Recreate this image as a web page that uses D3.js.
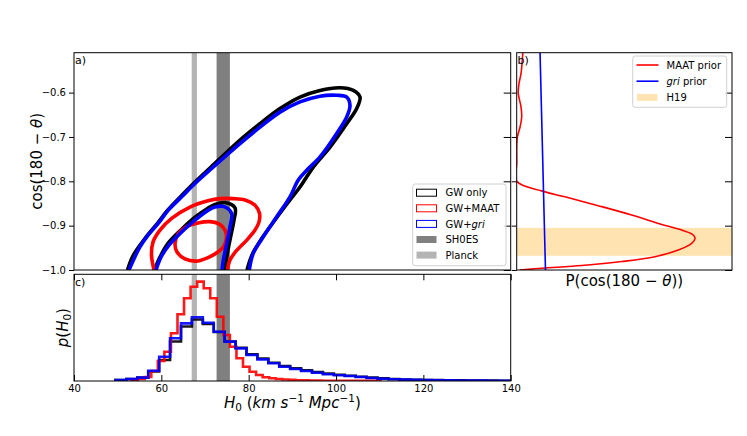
<!DOCTYPE html>
<html><head><meta charset="utf-8">
<script src="https://cdn.jsdelivr.net/npm/d3@7"></script>
<style>
body{margin:0;background:#fff}
svg{display:block}
text{font-family:"DejaVu Sans",sans-serif;fill:#000}
</style>
</head><body>
<svg id="c" width="747" height="436"></svg>
<script>
// ---------------- DATA ----------------
// Contours in (H0, cos(180-theta))
const gwOuter = [[52.25,-1.0],[53.51,-0.968],[56.49,-0.926],[59.01,-0.896],[61.3,-0.867],[64.27,-0.836],[67.48,-0.804],[71.37,-0.768],[78.01,-0.707],[82.59,-0.67],[87.17,-0.636],[91.75,-0.61],[96.33,-0.595],[100.91,-0.589],[103.96,-0.595],[105.49,-0.61],[104.74,-0.636],[102.45,-0.67],[98.62,-0.723],[94.8,-0.768],[91.75,-0.813],[89.46,-0.842],[86.03,-0.887],[83.05,-0.928],[80.76,-0.966],[79.62,-1.0]];
const gwInner = [[58.43,-1.0],[59.69,-0.971],[61.52,-0.94],[64.66,-0.908],[67.71,-0.881],[70.75,-0.86],[72.29,-0.852],[74.58,-0.848],[76.87,-0.86],[76.64,-0.8875],[75.95,-0.921],[75.26,-0.955],[74.81,-0.982],[74.69,-1.0]];
const maatOuter = [[58.32,-1.0],[57.75,-0.966],[58.09,-0.937],[59.69,-0.91],[62.44,-0.883],[66.56,-0.858],[70.68,-0.844],[73.43,-0.839],[76.41,-0.839],[79.16,-0.842],[81.45,-0.854],[82.48,-0.872],[82.36,-0.892],[81.45,-0.91],[79.62,-0.932],[77.33,-0.955],[75.72,-0.9775],[75.15,-1.0]];
const maatInner = [[63.13,-0.9415],[63.81,-0.919],[65.65,-0.903],[68.4,-0.894],[71.14,-0.891],[73.2,-0.896],[74.58,-0.91],[74.92,-0.926],[74.35,-0.946],[72.97,-0.9595],[70.68,-0.972],[67.94,-0.98],[65.42,-0.975],[63.59,-0.9595]];
const griOuter = [[52.59,-1.0],[53.97,-0.97],[55.11,-0.948],[57.01,-0.921],[59.3,-0.895],[61.59,-0.865],[64.66,-0.835],[67.71,-0.805],[71.53,-0.771],[78.01,-0.715],[82.59,-0.678],[87.17,-0.644],[91.75,-0.621],[96.33,-0.608],[100.16,-0.606],[102.45,-0.61],[103.2,-0.629],[102.45,-0.655],[100.16,-0.692],[96.33,-0.745],[93.29,-0.775],[91.36,-0.797],[89.46,-0.835],[86.42,-0.88],[83.35,-0.925],[81.06,-0.962],[80.14,-1.0]];
const griInner = [[58.78,-1.0],[59.92,-0.971],[61.75,-0.944],[64.66,-0.914],[67.71,-0.8875],[70.75,-0.865],[72.29,-0.858],[74.35,-0.857],[76.07,-0.872],[75.72,-0.9026],[74.97,-0.94],[74.19,-0.9775],[73.89,-1.0]];

// H0 reference bands [low, high]
const sh0es = [72.65, 75.7];
const planck = [66.95, 68.15];

// Histograms p(H0)
const redEdges = [53.2,54.7,56.2,57.7,59.2,60.7,62.2,63.7,65.2,66.7,68.2,69.7,71.2,72.7,74.2,75.7,77.2,78.7,80.2,81.7,83.2,84.7,86.2,87.7,89.2,90.7,92.2,93.7,95.2,96.7,98.2,99.7,101.2,102.7,104.2,105.7,107.2,108.7,110.2];
const redDens = [0.0008,0.0016,0.0031,0.0078,0.0155,0.0227,0.0370,0.0517,0.0641,0.0731,0.0770,0.0719,0.0641,0.0498,0.0357,0.0266,0.0176,0.0111,0.0072,0.0047,0.0029,0.0021,0.0016,0.0012,0.0009,0.0006,0.0005,0.0004,0.0003,0.0002,0.0002,0.0002,0.0001,0.0001,0.0001,0.0001,0.0001,0.0001];
const gwEdges = [49.5,52,54.5,57,59.5,62,64.5,67,69.5,72,74.5,77,79.5,82,84.5,87,89.5,92,94.5,97,99.5,102,104.5,107,109.5,112,114.5,117,119.5,122,124.5,127,129.5,132,134.5,137,139.5,142];
const blueDens = [0.0008,0.0016,0.0026,0.0080,0.0188,0.0331,0.0447,0.0494,0.0452,0.0382,0.0305,0.0253,0.0202,0.0168,0.0137,0.0111,0.0093,0.0078,0.0064,0.0052,0.0044,0.0039,0.0031,0.0023,0.0018,0.0013,0.0011,0.0009,0.0007,0.0006,0.0005,0.0004,0.0003,0.0003,0.0002,0.0002,0.0002];
const blackDens = [0.0008,0.0016,0.0026,0.0074,0.0163,0.0306,0.0422,0.0477,0.0442,0.0380,0.0306,0.0258,0.0207,0.0174,0.0142,0.0116,0.0098,0.0083,0.0070,0.0057,0.0048,0.0041,0.0033,0.0026,0.0020,0.0016,0.0012,0.0010,0.0008,0.0007,0.0005,0.0005,0.0004,0.0003,0.0003,0.0002,0.0002];

// Priors on cos(180-theta)
const maatCos = [-0.51,-0.557,-0.58,-0.602,-0.632,-0.655,-0.677,-0.70,-0.72,-0.76,-0.80,-0.8216,-0.835,-0.855,-0.876,-0.895,-0.910,-0.921,-0.929,-0.940,-0.955,-0.970,-0.981,-0.990,-0.996,-1.0];
const maatP   = [0.27,0.19,0.10,0.07,0.19,0.22,0.15,0.03,0.0,0.0,0.0,1.10,2.13,3.60,5.07,6.25,7.28,7.79,7.87,7.72,7.13,6.10,4.64,2.87,1.10,0.14];
const griCos = [-0.51,-1.0];
const griP = [1.03,1.27];
const h19 = [-0.968,-0.905];

const h0Ticks = [40,60,80,100,120,140];
const cosTicks = [-1.0,-0.9,-0.8,-0.7,-0.6];

// ---------------- LAYOUT ----------------
const svg = d3.select("#c");
const xL=74, xR=510.7, topT=52.7, topB=270, botT=274.3, botB=381, rL=516.7, rR=732;
const x = d3.scaleLinear().domain([40,140]).range([xL,xR]);
const yT = d3.scaleLinear().domain([-1,-0.51]).range([topB,topT]);
const yB = d3.scaleLinear().domain([0,0.0827]).range([botB,botT]);
const xP = d3.scaleLinear().domain([0,9.5]).range([rL,rR]);

const defs = svg.append("defs");
defs.append("clipPath").attr("id","clipA").append("rect").attr("x",xL).attr("y",topT).attr("width",xR-xL).attr("height",topB-topT);
defs.append("clipPath").attr("id","clipC").append("rect").attr("x",xL).attr("y",botT).attr("width",xR-xL).attr("height",botB-botT);
defs.append("clipPath").attr("id","clipB").append("rect").attr("x",rL).attr("y",topT).attr("width",rR-rL).attr("height",topB-topT);

// ---------- Panel a ----------
const gA = svg.append("g").attr("clip-path","url(#clipA)");
function band(g, r, y0, y1, col){
  g.append("rect").attr("x",x(r[0])).attr("width",x(r[1])-x(r[0])).attr("y",y0).attr("height",y1-y0).attr("fill",col);
}
band(gA, sh0es, topT, topB, "#808080");
band(gA, planck, topT, topB, "#b4b4b4");
const cl = d3.line().x(d=>x(d[0])).y(d=>yT(d[1])).curve(d3.curveCatmullRom);
const clc = d3.line().x(d=>x(d[0])).y(d=>yT(d[1])).curve(d3.curveCatmullRomClosed);
function cont(data, col, closed){
  gA.append("path").attr("d",(closed?clc:cl)(data)).attr("fill","none").attr("stroke",col).attr("stroke-width",3.6).attr("stroke-linejoin","round");
}
cont(gwOuter,"#000"); cont(gwInner,"#000");
cont(maatOuter,"#ff0000"); cont(maatInner,"#ff0000",true);
cont(griOuter,"#0000ff"); cont(griInner,"#0000ff");

// axes panel a
const axA = svg.append("g").attr("transform",`translate(${xL},0)`)
  .call(d3.axisLeft(yT).tickValues(cosTicks).tickSize(5).tickPadding(3).tickFormat(d3.format(".1f")));
axA.select(".domain").remove();
axA.selectAll("text").attr("font-size",10).attr("font-family","DejaVu Sans");
const axA2 = svg.append("g").attr("transform",`translate(${xR},0)`)
  .call(d3.axisRight(yT).tickValues(cosTicks).tickSize(-7).tickFormat(""));
axA2.select(".domain").remove();
svg.append("rect").attr("x",xL).attr("y",topT).attr("width",xR-xL).attr("height",topB-topT).attr("fill","none").attr("stroke","#000").attr("stroke-width",1);
svg.append("text").attr("x",75).attr("y",63.5).attr("font-size",11).text("a)");

// legend a
const lg = svg.append("g");
lg.append("rect").attr("x",412.7).attr("y",184).attr("width",93.3).attr("height",81.7).attr("rx",2.5)
  .attr("fill","#fff").attr("fill-opacity",0.8).attr("stroke","#d0d0d0").attr("stroke-width",1);
const legA = [
  {label:"GW only", stroke:"#000", fill:"none"},
  {label:"GW+MAAT", stroke:"#ff0000", fill:"none"},
  {label:"GW+", it:"gri", stroke:"#0000ff", fill:"none"},
  {label:"SH0ES", stroke:"none", fill:"#808080"},
  {label:"Planck", stroke:"none", fill:"#b4b4b4"}];
legA.forEach((d,i)=>{
  const cy = 192.7 + i*15.6;
  lg.append("rect").attr("x",416.5).attr("y",cy-3.5).attr("width",20).attr("height",7)
    .attr("fill",d.fill).attr("stroke",d.stroke).attr("stroke-width",1);
  const t = lg.append("text").attr("x",445.5).attr("y",cy+3.6).attr("font-size",10).text(d.label);
  if(d.it) t.append("tspan").attr("font-style","italic").text(d.it);
});

// y label panel a
svg.append("text").attr("transform",`translate(42,${(topT+topB)/2}) rotate(-90)`).attr("text-anchor","middle")
  .attr("font-size",15).html('cos(180 − <tspan font-style="italic">θ</tspan>)');

// ---------- Panel c ----------
const gC = svg.append("g").attr("clip-path","url(#clipC)");
band(gC, sh0es, botT, botB, "#808080");
band(gC, planck, botT, botB, "#b4b4b4");
function stepPts(edges, dens){
  const pts=[[edges[0],0]];
  dens.forEach((v,i)=>{pts.push([edges[i],v]);pts.push([edges[i+1],v]);});
  pts.push([edges[edges.length-1],0]);
  return pts;
}
const hl = d3.line().x(d=>x(d[0])).y(d=>yB(d[1]));
function hist(edges,dens,col){
  gC.append("path").attr("d",hl(stepPts(edges,dens))).attr("fill","none").attr("stroke",col).attr("stroke-width",2.6).attr("stroke-opacity",0.9);
}
hist(gwEdges,blackDens,"#000");
hist(redEdges,redDens,"#ff0000");
hist(gwEdges,blueDens,"#0000ff");

const axC = svg.append("g").attr("transform",`translate(0,${botB})`)
  .call(d3.axisBottom(x).tickValues(h0Ticks).tickSize(-6).tickPadding(4));
axC.select(".domain").remove();
axC.selectAll("text").attr("font-size",10).attr("font-family","DejaVu Sans");
const axC2 = svg.append("g").attr("transform",`translate(0,${botT})`)
  .call(d3.axisTop(x).tickValues(h0Ticks).tickSize(-6).tickFormat(""));
axC2.select(".domain").remove();
svg.append("rect").attr("x",xL).attr("y",botT).attr("width",xR-xL).attr("height",botB-botT).attr("fill","none").attr("stroke","#000").attr("stroke-width",1);
svg.append("text").attr("x",75).attr("y",286).attr("font-size",11).text("c)");

svg.append("text").attr("transform",`translate(68,${(botT+botB)/2}) rotate(-90)`).attr("text-anchor","middle")
  .attr("font-size",15).html('<tspan font-style="italic">p</tspan>(<tspan font-style="italic">H</tspan><tspan font-size="10.5" dy="3">0</tspan><tspan dy="-3">)</tspan>');

svg.append("text").attr("x",(xL+xR)/2).attr("y",408).attr("text-anchor","middle").attr("font-size",15)
  .html('<tspan font-style="italic">H</tspan><tspan font-size="10.5" dy="3">0</tspan><tspan dy="-3"> (</tspan><tspan font-style="italic">km s</tspan><tspan font-size="10.5" dy="-6">−1</tspan><tspan dy="6" font-style="italic"> Mpc</tspan><tspan font-size="10.5" dy="-6">−1</tspan><tspan dy="6">)</tspan>');

// ---------- Panel b ----------
const gB = svg.append("g").attr("clip-path","url(#clipB)");
gB.append("rect").attr("x",rL).attr("width",rR-rL).attr("y",yT(h19[1])).attr("height",yT(h19[0])-yT(h19[1]))
  .attr("fill","orange").attr("fill-opacity",0.3);
svg.append("text").attr("x",517.5).attr("y",63.5).attr("font-size",11).text("b)");
const maatPts = maatCos.map((c,i)=>[maatP[i],c]);
const griPts = griCos.map((c,i)=>[griP[i],c]);
const pl = d3.line().x(d=>xP(d[0])).y(d=>yT(d[1])).curve(d3.curveCatmullRom);
gB.append("path").attr("d",pl(maatPts)).attr("fill","none").attr("stroke","#ff0000").attr("stroke-width",1.6);
gB.append("path").attr("d",pl(griPts)).attr("fill","none").attr("stroke","#0000ff").attr("stroke-width",1.6);

const axB = svg.append("g").attr("transform",`translate(${rL},0)`)
  .call(d3.axisLeft(yT).tickValues(cosTicks).tickSize(5).tickFormat(""));
axB.select(".domain").remove();
const axB2 = svg.append("g").attr("transform",`translate(${rR},0)`)
  .call(d3.axisRight(yT).tickValues(cosTicks).tickSize(-7).tickFormat(""));
axB2.select(".domain").remove();
svg.append("rect").attr("x",rL).attr("y",topT).attr("width",rR-rL).attr("height",topB-topT).attr("fill","none").attr("stroke","#000").attr("stroke-width",1);

const lgB = svg.append("g");
lgB.append("rect").attr("x",632.7).attr("y",56).attr("width",94).attr("height",51.3).attr("rx",2.5)
  .attr("fill","#fff").attr("fill-opacity",0.8).attr("stroke","#d0d0d0").attr("stroke-width",1);
const legB = [{label:" prior", it:"MAAT", upright:true, col:"#ff0000", type:"line"},
              {label:" prior", it:"gri", col:"#0000ff", type:"line"},
              {label:"H19", col:"orange", type:"patch"}];
legB.forEach((d,i)=>{
  const cy = 65 + i*16.2;
  if(d.type==="line"){
    lgB.append("line").attr("x1",636.5).attr("x2",658.5).attr("y1",cy).attr("y2",cy).attr("stroke",d.col).attr("stroke-width",1.6);
  } else {
    lgB.append("rect").attr("x",637).attr("y",cy-3.5).attr("width",20.5).attr("height",7).attr("fill",d.col).attr("fill-opacity",0.3);
  }
  const t = lgB.append("text").attr("x",666.5).attr("y",cy+3.6).attr("font-size",10);
  if(d.it){ t.append("tspan").attr("font-style", d.upright?"normal":"italic").text(d.it); t.append("tspan").text(d.label); }
  else t.text(d.label);
});

svg.append("text").attr("x",(rL+rR)/2).attr("y",286).attr("text-anchor","middle").attr("font-size",15)
  .html('P(cos(180 − <tspan font-style="italic">θ</tspan>))');
</script>
</body></html>
